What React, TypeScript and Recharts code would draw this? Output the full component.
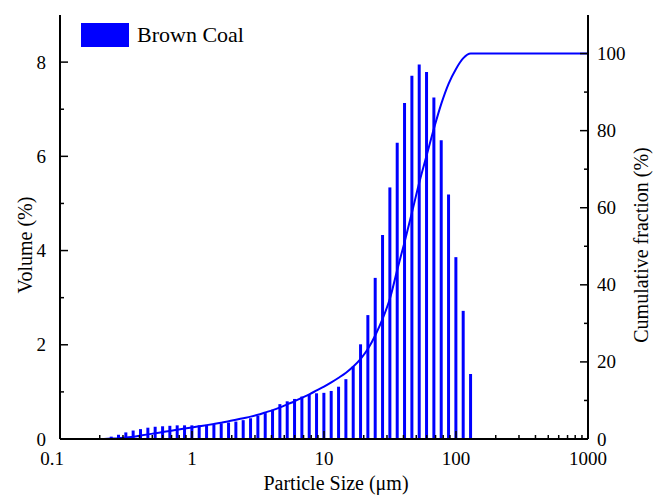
import { Bar, ComposedChart, Line, XAxis, YAxis } from "recharts";

const FONT = '"Liberation Serif", "Times New Roman", serif';
const BLUE = "#0000ff";

// bin sizes (µm)
const sizes = [
  0.215, 0.245, 0.278, 0.316, 0.359, 0.408, 0.464, 0.527, 0.6, 0.681, 0.774, 0.88,
  1.0, 1.136, 1.292, 1.468, 1.668, 1.896, 2.154, 2.448, 2.783, 3.162, 3.594, 4.084,
  4.642, 5.275, 5.995, 6.813, 7.743, 8.799, 10.0, 11.36, 12.92, 14.68, 16.68, 18.96,
  21.54, 24.48, 27.83, 31.62, 35.94, 40.84, 46.42, 52.75, 59.95, 68.13, 77.43, 87.99,
  100.0, 113.6, 129.2, 146.8,
];

// volume (%) per bin
const volume = [
  0.02, 0.05, 0.09, 0.14, 0.18, 0.21, 0.24, 0.26, 0.27, 0.28, 0.29, 0.29,
  0.29, 0.29, 0.3, 0.31, 0.33, 0.35, 0.37, 0.4, 0.44, 0.49, 0.55, 0.62,
  0.74, 0.8, 0.85, 0.9, 0.95, 0.97, 0.98, 1.02, 1.11, 1.27, 1.54, 2.01,
  2.63, 3.42, 4.33, 5.34, 6.29, 7.13, 7.71, 7.95, 7.79, 7.25, 6.34, 5.19,
  3.86, 2.72, 1.38, 0.02,
];

// cumulative fraction (%) at each bin
const cumulative = [
  0, 0.1, 0.2, 0.4, 0.6, 0.9, 1.2, 1.5, 1.8, 2.1, 2.4, 2.7,
  3.0, 3.3, 3.6, 3.9, 4.2, 4.6, 5.0, 5.4, 5.8, 6.3, 6.9, 7.5,
  8.2, 9.0, 9.8, 10.7, 11.6, 12.6, 13.6, 14.7, 15.9, 17.2, 18.8, 20.8,
  23.4, 26.9, 31.2, 36.5, 44.0, 51.2, 58.8, 66.6, 73.6, 80.6, 87.0, 92.2,
  96.0, 98.8, 100, 100,
];

// flat tail of the cumulative curve
const tailSizes = [300, 1000];
const tailCumulative = [100, 100];

const xTicks = [
  0.1, 0.2, 0.3, 0.4, 0.5, 0.6, 0.7, 0.8, 0.9,
  1, 2, 3, 4, 5, 6, 7, 8, 9,
  10, 20, 30, 40, 50, 60, 70, 80, 90,
  100, 200, 300, 400, 500, 600, 700, 800, 900,
  1000,
];
const xMajor = [0.1, 1, 10, 100, 1000];
const leftTicks = [0, 1, 2, 3, 4, 5, 6, 7, 8];
const leftMajor = [0, 2, 4, 6, 8];
const rightTicks = [0, 10, 20, 30, 40, 50, 60, 70, 80, 90, 100];
const rightMajor = [0, 20, 40, 60, 80, 100];

const data = [
  ...sizes.map((size, i) => ({ size, volume: volume[i], cumulative: cumulative[i] })),
  ...tailSizes.map((size, i) => ({ size, cumulative: tailCumulative[i] })),
];

const textStyle = { fontFamily: FONT, fontSize: 19, fill: "#000" };

function XTick({ x, y, payload }: any) {
  const major = xMajor.includes(payload.value);
  return (
    <g>
      <line x1={x} x2={x} y1={y} y2={y - (major ? 8 : 4)} stroke="#000" strokeWidth={1.5} />
      {major && (
        <text x={payload.value === 0.1 ? x - 8 : x} y={y + 26} textAnchor="middle" {...textStyle}>
          {payload.value}
        </text>
      )}
    </g>
  );
}

function LeftTick({ x, y, payload }: any) {
  const major = leftMajor.includes(payload.value);
  return (
    <g>
      <line x1={x} x2={x + (major ? 8 : 4)} y1={y} y2={y} stroke="#000" strokeWidth={1.5} />
      {major && (
        <text x={x - 14} y={y} textAnchor="end" dominantBaseline="central" {...textStyle}>
          {payload.value}
        </text>
      )}
    </g>
  );
}

function RightTick({ x, y, payload }: any) {
  const major = rightMajor.includes(payload.value);
  return (
    <g>
      <line x1={x} x2={x - (major ? 8 : 4)} y1={y} y2={y} stroke="#000" strokeWidth={1.5} />
      {major && (
        <text x={x + 9} y={y} textAnchor="start" dominantBaseline="central" {...textStyle}>
          {payload.value}
        </text>
      )}
    </g>
  );
}

const titleStyle = { fontFamily: FONT, fontSize: 20, fill: "#000" };

export default function App() {
  return (
    <div style={{ position: "absolute", left: 0, top: 0, width: 654, height: 495, background: "#fff" }}>
      <ComposedChart width={654} height={495} data={data} margin={{ top: 15, right: 0, bottom: 0, left: 0 }}>
        <XAxis
          dataKey="size"
          type="number"
          scale="log"
          domain={[0.1, 1000]}
          allowDataOverflow
          ticks={xTicks}
          interval={0}
          height={56}
          tickSize={0}
          tickMargin={0}
          tickLine={false}
          tick={<XTick />}
          axisLine={{ stroke: "#000", strokeWidth: 2 }}
          label={() => (
            <text x={336} y={490} textAnchor="middle" {...titleStyle}>
              Particle Size (μm)
            </text>
          )}
        />
        <XAxis
          xAxisId="top"
          orientation="top"
          dataKey="size"
          type="number"
          scale="log"
          domain={[0.1, 1000]}
          allowDataOverflow
          height={0}
          tick={false}
          tickLine={false}
          axisLine={{ stroke: "#000", strokeWidth: 2 }}
        />
        <YAxis
          yAxisId="left"
          domain={[0, 9]}
          ticks={leftTicks}
          interval={0}
          width={60}
          tickSize={0}
          tickMargin={0}
          tickLine={false}
          tick={<LeftTick />}
          axisLine={{ stroke: "#000", strokeWidth: 2 }}
          label={() => (
            <text
              x={25}
              y={245}
              textAnchor="middle"
              dominantBaseline="central"
              transform="rotate(-90, 25, 245)"
              {...titleStyle}
            >
              Volume (%)
            </text>
          )}
        />
        <YAxis
          yAxisId="right"
          orientation="right"
          domain={[0, 110]}
          ticks={rightTicks}
          interval={0}
          width={66}
          tickSize={0}
          tickMargin={0}
          tickLine={false}
          tick={<RightTick />}
          axisLine={{ stroke: "#000", strokeWidth: 2 }}
          label={() => (
            <text
              x={641}
              y={245}
              textAnchor="middle"
              dominantBaseline="central"
              transform="rotate(-90, 641, 245)"
              {...titleStyle}
            >
              Cumulative fraction (%)
            </text>
          )}
        />
        <Bar yAxisId="left" dataKey="volume" fill={BLUE} barSize={3} isAnimationActive={false} />
        <Line
          yAxisId="right"
          dataKey="cumulative"
          type="monotone"
          stroke={BLUE}
          strokeWidth={2}
          dot={false}
          isAnimationActive={false}
        />
      </ComposedChart>
      <div
        style={{
          position: "absolute",
          left: 81,
          top: 22,
          display: "flex",
          alignItems: "center",
          fontFamily: FONT,
          fontSize: 22,
          color: "#000",
        }}
      >
        <span style={{ display: "inline-block", width: 48, height: 24, background: BLUE, marginRight: 8 }} />
        <span>Brown Coal</span>
      </div>
    </div>
  );
}
